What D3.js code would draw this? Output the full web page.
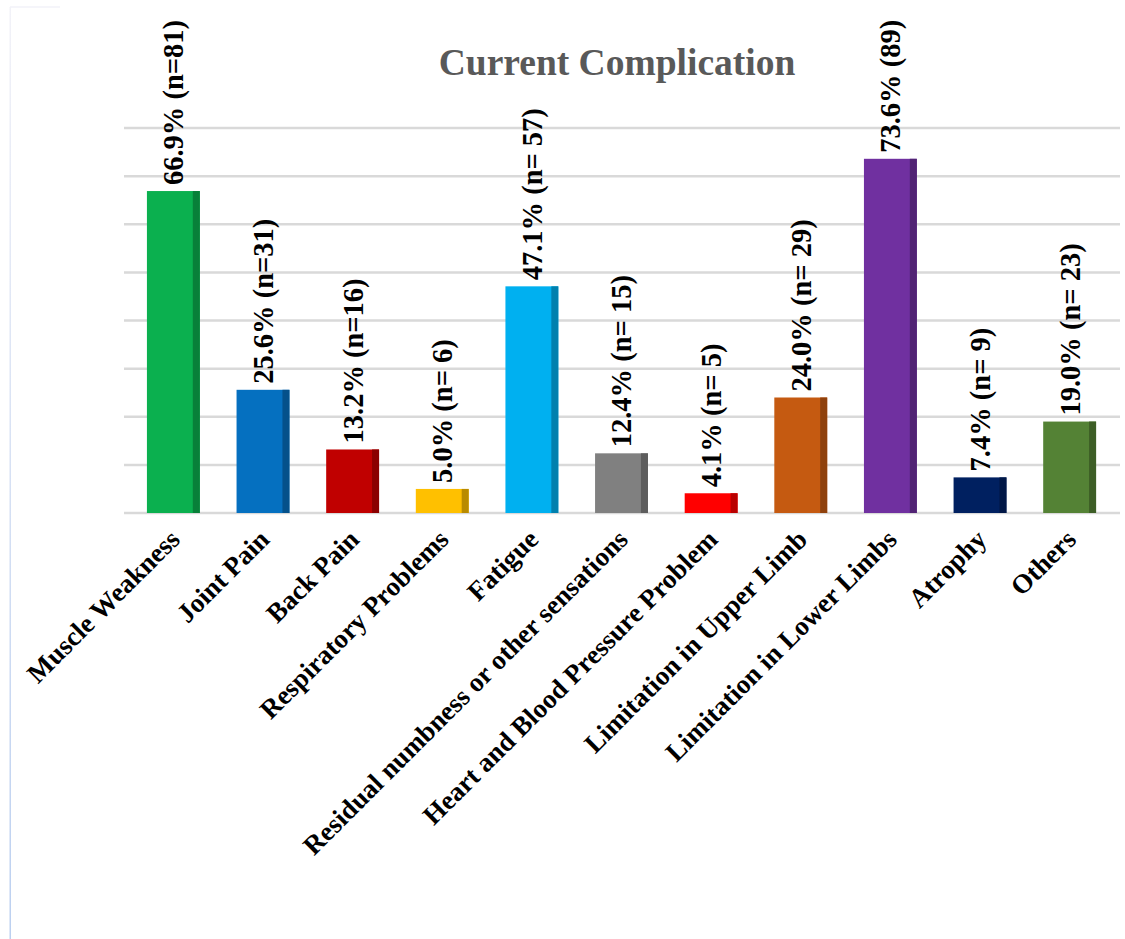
<!DOCTYPE html>
<html>
<head>
<meta charset="utf-8">
<script src="https://cdn.jsdelivr.net/npm/d3@7"></script>
<style>
    body { margin: 0; background: #fff; }
    text { font-family: "Liberation Serif", "Times New Roman", serif; font-weight: bold; }
</style>
</head>
<body>
<script>
const categories = ["Muscle Weakness", "Joint Pain", "Back Pain", "Respiratory Problems", "Fatigue",
    "Residual numbness or other sensations", "Heart and Blood Pressure Problem",
    "Limitation in Upper Limb", "Limitation in Lower Limbs", "Atrophy", "Others"]
const percents = [66.9, 25.6, 13.2, 5.0, 47.1, 12.4, 4.1, 24.0, 73.6, 7.4, 19.0]
const valueLabels = ["66.9% (n=81)", "25.6% (n=31)", "13.2% (n=16)", "5.0% (n= 6)", "47.1% (n= 57)",
    "12.4% (n= 15)", "4.1% (n= 5)", "24.0% (n= 29)", "73.6% (89)", "7.4% (n= 9)", "19.0% (n= 23)"]
const colors = ["#0bb04f", "#0570c0", "#c00000", "#ffc000", "#00b0f0", "#808080",
    "#ff0000", "#c55a11", "#7030a0", "#002060", "#548235"]
const gridTicks = [0, 10, 20, 30, 40, 50, 60, 70, 80]

const width = 1125, height = 939

const svg = d3.select("body").append("svg")
    .attr("width", width)
    .attr("height", height)

// faint frame on the left / top
const grad = svg.append("defs").append("linearGradient")
    .attr("id", "frame").attr("x1", 0).attr("y1", 0).attr("x2", 0).attr("y2", 1)
grad.append("stop").attr("offset", "0%").attr("stop-color", "#f2f2f8")
grad.append("stop").attr("offset", "100%").attr("stop-color", "#bcd0f0")

svg.append("line")
    .attr("x1", 10).attr("x2", 60).attr("y1", 7).attr("y2", 7)
    .attr("stroke", "#f2f2f8").attr("stroke-width", 1.5)
svg.append("rect")
    .attr("x", 9.5).attr("y", 7).attr("width", 1.5).attr("height", height - 7)
    .attr("fill", "url(#frame)")

const x = d3.scaleBand()
    .domain(categories)
    .range([129, 1114])
    .paddingInner(0.41)
    .paddingOuter(0.2)

const y = d3.scaleLinear()
    .domain([0, 80])
    .range([513, 128])

// gridlines
svg.append("g")
    .selectAll("line")
    .data(gridTicks)
    .join("line")
    .attr("x1", 124)
    .attr("x2", 1120)
    .attr("y1", d => y(d))
    .attr("y2", d => y(d))
    .attr("stroke", "#d9d9d9")
    .attr("stroke-width", 2.5)

svg.append("text")
    .attr("x", 617)
    .attr("y", 75)
    .attr("text-anchor", "middle")
    .attr("font-size", 37.5)
    .attr("fill", "#595959")
    .text("Current Complication")

const side = 7
const bars = svg.append("g")
    .selectAll("g")
    .data(categories)
    .join("g")

bars.append("rect")
    .attr("x", d => x(d))
    .attr("y", (d, i) => y(percents[i]))
    .attr("width", x.bandwidth())
    .attr("height", (d, i) => y(0) - y(percents[i]))
    .attr("fill", (d, i) => colors[i])

bars.append("rect")
    .attr("x", d => x(d) + x.bandwidth() - side)
    .attr("y", (d, i) => y(percents[i]))
    .attr("width", side)
    .attr("height", (d, i) => y(0) - y(percents[i]))
    .attr("fill", (d, i) => d3.color(colors[i]).darker(0.9))

// value labels, vertical
bars.append("text")
    .attr("transform", (d, i) => `translate(${x(d) + x.bandwidth() / 2},${y(percents[i]) - 6}) rotate(-90)`)
    .attr("dy", "0.35em")
    .attr("font-size", 28.5)
    .attr("fill", "#000")
    .text((d, i) => valueLabels[i])

// category labels at -45
svg.append("g")
    .selectAll("text")
    .data(categories)
    .join("text")
    .attr("transform", d => `translate(${x(d) + x.bandwidth() / 2 + 8},${541}) rotate(-45)`)
    .attr("text-anchor", "end")
    .attr("font-size", 27)
    .attr("fill", "#000")
    .text(d => d)
</script>
</body>
</html>
